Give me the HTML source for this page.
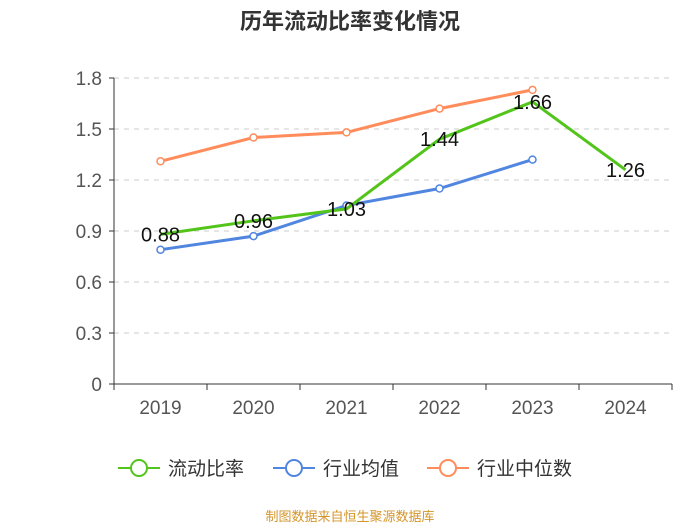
<!DOCTYPE html>
<html><head><meta charset="utf-8"><style>
body{margin:0;background:#fff}
svg text{font-family:"Liberation Sans","Noto Sans CJK SC",sans-serif}
</style></head><body>
<svg id="c" width="700" height="525" xmlns="http://www.w3.org/2000/svg">
<text x="350" y="29" text-anchor="middle" font-size="22" font-weight="bold" fill="#333">历年流动比率变化情况</text>
<g id="grid"></g><g id="axes"></g><g id="series"></g>
<g>
<g><line x1="118" y1="468" x2="160" y2="468" stroke="#52c41a" stroke-width="2"/><circle cx="139" cy="468" r="8" fill="#fff" stroke="#52c41a" stroke-width="2"/><text x="168" y="475" font-size="19" fill="#333">流动比率</text></g>
<g><line x1="273" y1="468" x2="315" y2="468" stroke="#5085e0" stroke-width="2"/><circle cx="294" cy="468" r="8" fill="#fff" stroke="#5085e0" stroke-width="2"/><text x="323" y="475" font-size="19" fill="#333">行业均值</text></g>
<g><line x1="427" y1="468" x2="469" y2="468" stroke="#ff8c5a" stroke-width="2"/><circle cx="448" cy="468" r="8" fill="#fff" stroke="#ff8c5a" stroke-width="2"/><text x="477" y="475" font-size="19" fill="#333">行业中位数</text></g>
</g>
<text x="350" y="521" text-anchor="middle" font-size="13" fill="#d4952a">制图数据来自恒生聚源数据库</text>
</svg>
<script>
const categories=["2019","2020","2021","2022","2023","2024"];
const currentRatio=[0.88,0.96,1.03,1.44,1.66,1.26];
const industryMean=[0.79,0.87,1.05,1.15,1.32];
const industryMedian=[1.31,1.45,1.48,1.62,1.73];
const yTicks=[0,0.3,0.6,0.9,1.2,1.5,1.8];
const yTickLabels=["0","0.3","0.6","0.9","1.2","1.5","1.8"];
const NS="http://www.w3.org/2000/svg";
const plotLeft=114,plotRight=672,plotTop=78,plotBottom=384,band=(plotRight-plotLeft)/categories.length;
const xs=i=>plotLeft+band*(i+0.5);
const ys=v=>plotBottom-(v/1.8)*(plotBottom-plotTop);
function mk(tag,attrs,parent,text){const e=document.createElementNS(NS,tag);for(const k in attrs)e.setAttribute(k,attrs[k]);if(text!==undefined)e.textContent=text;parent.appendChild(e);return e;}
const grid=document.getElementById('grid'),axes=document.getElementById('axes'),ser=document.getElementById('series');
yTicks.forEach((t,i)=>{
  if(t>0){const g=mk('line',{x1:plotLeft,x2:plotRight,y1:ys(t),y2:ys(t),stroke:'#ccc','stroke-dasharray':'5,5'},grid);
  
  }
  const tk=mk('line',{x1:plotLeft-5,x2:plotLeft,y1:ys(t),y2:ys(t),stroke:'#333'},axes);
  
  
  const l=mk('text',{x:plotLeft-12,y:ys(t)+7,'text-anchor':'end','font-size':'19',fill:'#555'},axes,yTickLabels[i]);
  
  
});
const ya=mk('line',{x1:plotLeft,x2:plotLeft,y1:plotTop,y2:plotBottom,stroke:'#333'},axes);


const xa=mk('line',{x1:plotLeft,x2:plotRight,y1:plotBottom,y2:plotBottom,stroke:'#333'},axes);


for(let i=0;i<=categories.length;i++){const t=mk('line',{x1:plotLeft+band*i,x2:plotLeft+band*i,y1:plotBottom,y2:plotBottom+6,stroke:'#333'},axes);

}
categories.forEach((c,i)=>{const l=mk('text',{x:xs(i),y:414,'text-anchor':'middle','font-size':'19',fill:'#555'},axes,c);

});
function drawLine(data,color,name,markers){
  const p=mk('polyline',{points:data.map((v,i)=>xs(i)+','+ys(v)).join(' '),fill:'none',stroke:color,'stroke-width':3},ser);
  
  
  if(markers)data.forEach((v,i)=>{const c=mk('circle',{cx:xs(i),cy:ys(v),r:3.5,fill:'#fff',stroke:color,'stroke-width':1.5},ser);
  
  });
}
drawLine(industryMedian,'#ff8c5a','industry-median',true);
drawLine(industryMean,'#5085e0','industry-mean',true);
drawLine(currentRatio,'#52c41a','current-ratio',false);
currentRatio.forEach((v,i)=>{const l=mk('text',{x:xs(i),y:ys(v)+7,'text-anchor':'middle','font-size':'20',fill:'#111'},ser,v.toFixed(2));

});
</script>
</body></html>
